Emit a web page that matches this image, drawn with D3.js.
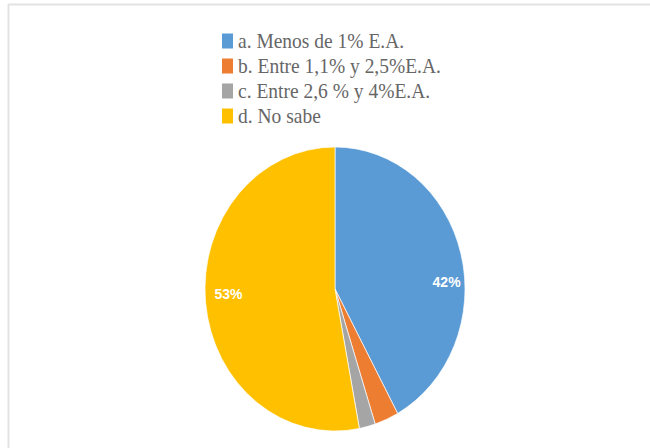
<!DOCTYPE html>
<html>
<head>
<meta charset="utf-8">
<script src="https://cdn.jsdelivr.net/npm/d3@7"></script>
<style>
  html, body { margin: 0; padding: 0; background: #fff; }
  svg { display: block; }
</style>
</head>
<body>
<svg id="chart" width="650" height="448"></svg>
<script>
// Survey answers and their shares (%)
const categories = [
  "a.  Menos de 1% E.A.",
  "b. Entre 1,1% y 2,5%E.A.",
  "c. Entre 2,6 % y 4%E.A.",
  "d. No sabe"
];
const values = [42, 3, 2, 53];
const colors = ["#5b9bd5", "#ed7d31", "#a5a5a5", "#ffc000"];
const shownLabels = [true, false, false, true];
// angular nudge (degrees) and radius (fraction) for the value labels
const labelShift = [11, 0, 0, 3];
const labelRadius = [0.86, 0, 0, 0.82];

const svg = d3.select("#chart");

// faint frame lines along the top and left
svg.append("line").attr("x1", 8).attr("x2", 650).attr("y1", 4.5).attr("y2", 4.5)
  .attr("stroke", "#e3e3e3").attr("stroke-width", 2);
svg.append("line").attr("x1", 8.5).attr("x2", 8.5).attr("y1", 4).attr("y2", 448)
  .attr("stroke", "#e3e3e3").attr("stroke-width", 2);

// legend
const color = d3.scaleOrdinal().domain(categories).range(colors);
const legendY = d3.scalePoint().domain(categories).range([41, 116]);
const legend = svg.append("g");
const item = legend.selectAll("g").data(categories).join("g")
  .attr("transform", d => `translate(222,${legendY(d)})`);
item.append("rect").attr("x", 0).attr("y", -7.5).attr("width", 11).attr("height", 15)
  .attr("fill", d => color(d));
item.append("text").attr("x", 16).attr("y", 0)
  .attr("transform", "scale(1,1.1)")
  .attr("dy", "0.33em")
  .attr("font-family", "Liberation Serif, Times New Roman, serif")
  .attr("font-size", 19.5).attr("fill", "#666666")
  .text(d => d);

// pie (slightly taller than wide)
const cx = 335, cy = 289, rx = 130, ry = 142;
const pie = d3.pie().sort(null).value(d => d.v);
const data = categories.map((c, i) => ({ c, v: values[i], i }));
const arcs = pie(data);
const arc = d3.arc().innerRadius(0).outerRadius(100);
const g = svg.append("g").attr("transform", `translate(${cx},${cy}) scale(${rx / 100},${ry / 100})`);
g.selectAll("path").data(arcs).join("path")
  .attr("d", arc)
  .attr("fill", d => color(d.data.c))
  .attr("stroke", "#fff").attr("stroke-width", 0.5);

// value labels
const labelPos = d => {
  const a = (d.startAngle + d.endAngle) / 2 + labelShift[d.data.i] * Math.PI / 180;
  const r = labelRadius[d.data.i];
  return [cx + Math.sin(a) * r * rx, cy - Math.cos(a) * r * ry];
};
svg.append("g").selectAll("text").data(arcs.filter(d => shownLabels[d.data.i])).join("text")
  .attr("x", d => labelPos(d)[0])
  .attr("y", d => labelPos(d)[1])
  .attr("text-anchor", "middle").attr("dominant-baseline", "central")
  .attr("font-family", "Liberation Sans, Arial, sans-serif")
  .attr("font-weight", "bold").attr("font-size", 14).attr("fill", "#fff")
  .text(d => d.data.v + "%");
</script>
</body>
</html>
